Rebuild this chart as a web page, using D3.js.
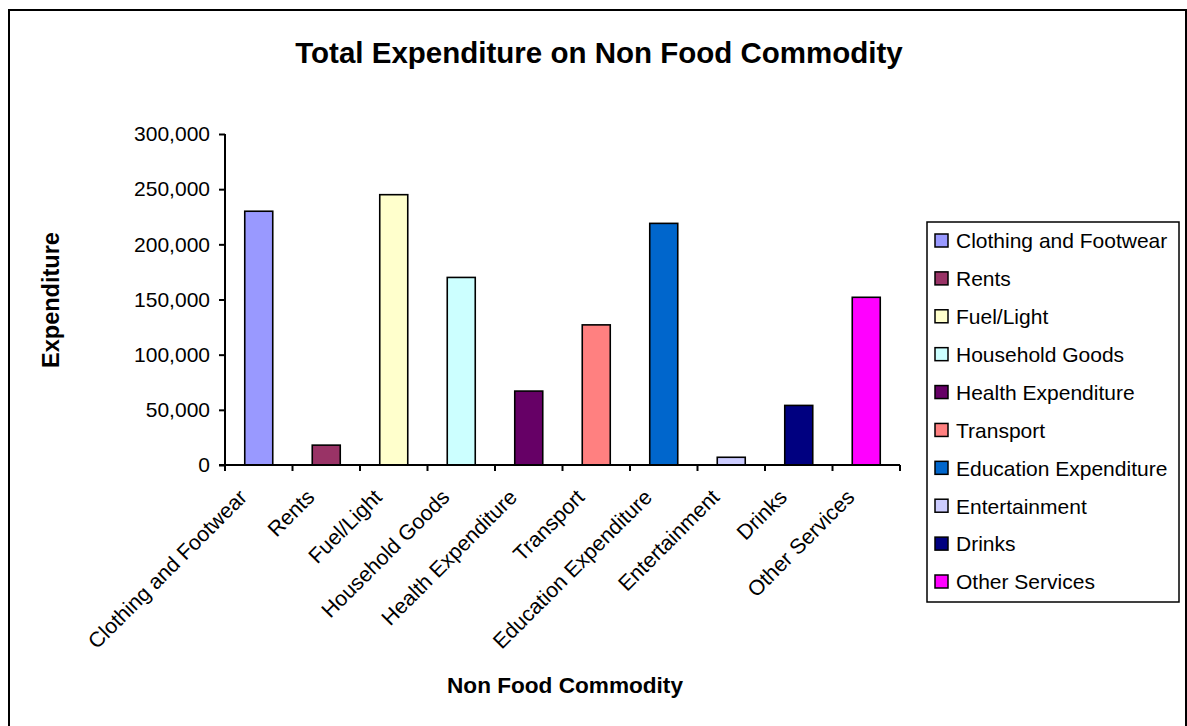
<!DOCTYPE html>
<html>
<head>
<meta charset="utf-8">
<script src="https://cdn.jsdelivr.net/npm/d3@7"></script>
<style>
  html, body { margin: 0; padding: 0; background: #fff; }
  svg { display: block; font-family: "Liberation Sans", Arial, sans-serif; }
</style>
</head>
<body>
<svg id="chart" width="1187" height="726"></svg>
<script>
// Non-food commodity categories and their total expenditure
const categories = [
  "Clothing and Footwear", "Rents", "Fuel/Light", "Household Goods",
  "Health Expenditure", "Transport", "Education Expenditure",
  "Entertainment", "Drinks", "Other Services"
];
const expenditure = [230000, 18000, 245000, 170000, 67000, 127000, 219000, 7000, 54000, 152000];
const barColors = ["#9999FF", "#993366", "#FFFFCC", "#CCFFFF", "#660066",
                   "#FF8080", "#0066CC", "#CCCCFF", "#000080", "#FF00FF"];
const yTicks = [0, 50000, 100000, 150000, 200000, 250000, 300000];

const svg = d3.select("#chart");

// outer frame
svg.append("rect")
  .attr("x", 9).attr("y", 10).attr("width", 1177).attr("height", 730)
  .attr("fill", "#fff").attr("stroke", "#000").attr("stroke-width", 2);

const plot = { left: 225, right: 900, top: 134, bottom: 465 };

const step = (plot.right - plot.left) / categories.length;
const pad = 1 - 28 / step;
const x = d3.scaleBand()
  .domain(categories)
  .range([plot.left, plot.right])
  .paddingInner(pad)
  .paddingOuter(pad / 2);

const y = d3.scaleLinear()
  .domain([0, 300000])
  .range([plot.bottom, plot.top]);

// bars
svg.append("g").selectAll("rect")
  .data(categories)
  .join("rect")
  .attr("x", d => x(d))
  .attr("width", x.bandwidth())
  .attr("y", (d, i) => y(expenditure[i]))
  .attr("height", (d, i) => y(0) - y(expenditure[i]))
  .attr("fill", (d, i) => barColors[i])
  .attr("stroke", "#000")
  .attr("stroke-width", 1.6);

// y axis
const yAxis = svg.append("g")
  .attr("transform", `translate(${plot.left},0)`)
  .call(d3.axisLeft(y).tickValues(yTicks).tickSize(6).tickPadding(9)
    .tickFormat(d3.format(",")));
yAxis.select(".domain").attr("stroke", "#000").attr("stroke-width", 2).attr("d", `M0,${plot.top}V${plot.bottom}`);
yAxis.selectAll(".tick line").attr("stroke", "#000").attr("stroke-width", 2);
yAxis.selectAll(".tick text")
  .attr("font-size", 21).attr("fill", "#000")
  .attr("font-family", "Liberation Sans, Arial, sans-serif");

// x axis: ticks at category boundaries
const xAxisG = svg.append("g");
xAxisG.append("line")
  .attr("x1", plot.left - 6).attr("x2", plot.right)
  .attr("y1", plot.bottom).attr("y2", plot.bottom)
  .attr("stroke", "#000").attr("stroke-width", 2);
const boundaries = d3.range(categories.length + 1).map(i => plot.left + i * step);
xAxisG.selectAll("line.tk")
  .data(boundaries)
  .join("line")
  .attr("class", "tk")
  .attr("x1", d => d).attr("x2", d => d)
  .attr("y1", plot.bottom).attr("y2", plot.bottom + 6)
  .attr("stroke", "#000").attr("stroke-width", 2);

xAxisG.selectAll("text")
  .data(categories)
  .join("text")
  .attr("transform", d => `translate(${x(d) + x.bandwidth() / 2 - 21},${plot.bottom + 23}) rotate(-45)`)
  .attr("text-anchor", "end")
  .attr("dy", "0.7em")
  .attr("font-size", 21.3)
  .text(d => d);

// titles
svg.append("text")
  .attr("x", 599).attr("y", 63)
  .attr("text-anchor", "middle")
  .attr("font-size", 29.5).attr("font-weight", "bold")
  .text("Total Expenditure on Non Food Commodity");

svg.append("text")
  .attr("transform", "translate(59,300) rotate(-90)")
  .attr("text-anchor", "middle")
  .attr("font-size", 23.5).attr("font-weight", "bold")
  .text("Expenditure");

svg.append("text")
  .attr("x", 565).attr("y", 693)
  .attr("text-anchor", "middle")
  .attr("font-size", 22.6).attr("font-weight", "bold")
  .text("Non Food Commodity");

// legend
const legend = svg.append("g");
legend.append("rect")
  .attr("x", 927).attr("y", 222).attr("width", 252).attr("height", 380)
  .attr("fill", "#fff").attr("stroke", "#000").attr("stroke-width", 1.5);
const rowY = d3.scalePoint().domain(categories).range([241, 582]);
const items = legend.selectAll("g.item")
  .data(categories)
  .join("g")
  .attr("class", "item")
  .attr("transform", d => `translate(935,${rowY(d)})`);
items.append("rect")
  .attr("x", 0).attr("y", -7).attr("width", 13).attr("height", 13)
  .attr("fill", (d, i) => barColors[i])
  .attr("stroke", "#000").attr("stroke-width", 1.5);
items.append("text")
  .attr("x", 21).attr("dy", "0.35em")
  .attr("font-size", 21)
  .text(d => d);
</script>
</body>
</html>
